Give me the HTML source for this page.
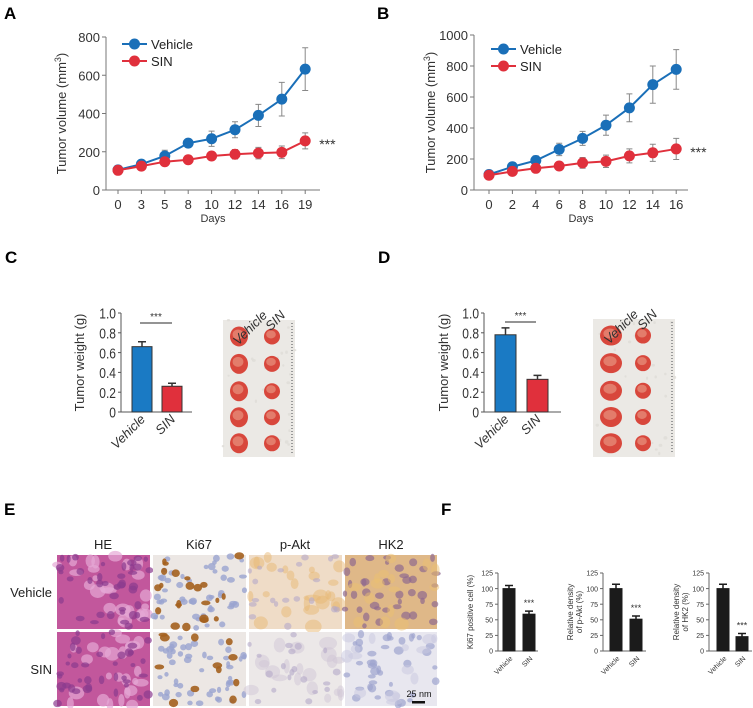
<!DOCTYPE html>
<html><head><meta charset="utf-8"><style>
html,body{margin:0;padding:0;background:#fff;}
svg{display:block;font-family:"Liberation Sans",Arial,sans-serif;}
</style></head><body>
<svg id="fig" width="753" height="708" viewBox="0 0 753 708" xmlns="http://www.w3.org/2000/svg">
<g id="root"></g>
</svg>
<script>
// ---- Panel A data ----
const daysA = ["0","3","5","8","10","12","14","16","19"];
const vehA = [105,135,178,245,268,315,390,475,632];
const vehAErr = [10,15,30,20,40,42,58,88,112];
const sinA = [103,125,148,158,178,187,193,197,257];
const sinAErr = [10,12,15,15,15,25,30,33,42];
const ticksA = [0,200,400,600,800];
// ---- Panel B data ----
const daysB = ["0","2","4","6","8","10","12","14","16"];
const vehB = [100,150,190,262,333,418,530,680,778];
const vehBErr = [10,15,30,40,45,65,90,120,128];
const sinB = [95,120,140,155,175,185,220,240,265];
const sinBErr = [10,15,20,25,35,40,45,55,68];
const ticksB = [0,200,400,600,800,1000];
// ---- Panel C/D data ----
const groupsCD = ["Vehicle","SIN"];
const weightC = [0.66,0.26];
const weightCErr = [0.05,0.03];
const weightD = [0.78,0.33];
const weightDErr = [0.07,0.04];
const ticksCD = ["0","0.2","0.4","0.6","0.8","1.0"];
// ---- Panel F data ----
const groupsF = ["Vehicle","SIN"];
const ki67 = [100,59];
const ki67Err = [5,5];
const pakt = [100,51];
const paktErr = [7,5];
const hk2 = [100,23];
const hk2Err = [7,5];
const ticksF = [0,25,50,75,100,125];

const NS="http://www.w3.org/2000/svg";
const root=document.getElementById('root');
function el(tag,attrs,parent,text){const e=document.createElementNS(NS,tag);for(const k in attrs)e.setAttribute(k,attrs[k]);if(text!==undefined)e.textContent=text;(parent||root).appendChild(e);return e;}

function label(x,y,t){const e=el('text',{x:x,y:y,'font-size':17,'font-weight':'bold',fill:'#000'},root,t);

}
label(4,19,'A');label(377,19,'B');label(5,263,'C');label(378,263,'D');label(4,515,'E');label(441,515,'F');

function lineChart(p){
  const g=el('g',{});
  
  
  const y=v=>p.y0-(v/p.ymax)*(p.y0-p.y1);
  const x=i=>p.x0+i*p.dx;
  el('line',{x1:p.ax,y1:p.y1,x2:p.ax,y2:p.y0,stroke:'#777','stroke-width':1},g);
  el('line',{x1:p.ax,y1:p.y0,x2:p.axEnd,y2:p.y0,stroke:'#777','stroke-width':1},g);
  p.ticks.forEach(t=>{el('line',{x1:p.ax-4,y1:y(t),x2:p.ax,y2:y(t),stroke:'#777'},g);
    const tt=el('text',{x:p.ax-6,y:y(t)+5,'font-size':13,'text-anchor':'end',fill:'#333'},g,String(t));
    
    });
  p.cats.forEach((c,i)=>{el('line',{x1:x(i),y1:p.y0,x2:x(i),y2:p.y0+4,stroke:'#777'},g);
    const tt=el('text',{x:x(i),y:p.y0+19,'font-size':13,'text-anchor':'middle',fill:'#333'},g,c);
    
    });
  const xt=el('text',{x:(p.ax+p.axEnd)/2,y:p.y0+32,'font-size':11,'text-anchor':'middle',fill:'#333'},g,'Days');
  
  
  const yt=el('text',{x:0,y:0,'font-size':13,'text-anchor':'middle',fill:'#333',transform:`translate(${p.ytx},${(p.y0+p.y1)/2}) rotate(-90)`},g);
  
  
  yt.innerHTML='Tumor volume (mm<tspan dy="-5" font-size="9">3</tspan><tspan dy="5">)</tspan>';
  [[p.veh,p.vehErr,'#1a6fb8','vehicle'],[p.sin,p.sinErr,'#e0303c','sin']].forEach(([vals,errs,col,nm])=>{
    vals.forEach((v,i)=>{const e=el('path',{d:`M${x(i)},${y(v-errs[i])}V${y(v+errs[i])}M${x(i)-3},${y(v+errs[i])}h6M${x(i)-3},${y(v-errs[i])}h6`,stroke:'#888','stroke-width':1,fill:'none'},g);
      
      });
    const l=el('polyline',{points:vals.map((v,i)=>x(i)+','+y(v)).join(' '),fill:'none',stroke:col,'stroke-width':2},g);
    
    
    vals.forEach((v,i)=>{const c=el('circle',{cx:x(i),cy:y(v),r:5.5,fill:col},g);
      
      });
  });
  const st=el('text',{x:x(8)+14,y:y(p.sin[8])+8,'font-size':14,fill:'#333'},g,'***');
  
  
  [['Vehicle','#1a6fb8',p.legY],['SIN','#e0303c',p.legY+17]].forEach(([t,c,ly])=>{
    const lg=el('g',{},g);
    
    
    el('line',{x1:p.legX,y1:ly,x2:p.legX+25,y2:ly,stroke:c,'stroke-width':2},lg);
    el('circle',{cx:p.legX+12.5,cy:ly,r:5.5,fill:c},lg);
    el('text',{x:p.legX+29,y:ly+5,'font-size':13,fill:'#222'},lg,t);
  });
}
lineChart({name:'panel-a-chart',x0:118,dx:23.4,ax:106,axEnd:320,y0:190,y1:37,ymax:800,ticks:ticksA,cats:daysA,veh:vehA,vehErr:vehAErr,sin:sinA,sinErr:sinAErr,ytx:66,legX:122,legY:44});
lineChart({name:'panel-b-chart',x0:489,dx:23.4,ax:474,axEnd:688,y0:190,y1:35,ymax:1000,ticks:ticksB,cats:daysB,veh:vehB,vehErr:vehBErr,sin:sinB,sinErr:sinBErr,ytx:435,legX:491,legY:49});

function barChart(p){
  const g=el('g',{});
  
  
  const y=v=>p.y0-(v/p.ymax)*(p.y0-p.y1);
  el('line',{x1:p.ax,y1:p.y1,x2:p.ax,y2:p.y0,stroke:p.axc,'stroke-width':1},g);
  el('line',{x1:p.ax,y1:p.y0,x2:p.axEnd,y2:p.y0,stroke:p.axc,'stroke-width':1},g);
  p.ticks.forEach(t=>{const v=parseFloat(t);el('line',{x1:p.ax-3,y1:y(v),x2:p.ax,y2:y(v),stroke:p.axc},g);
    const tt=el('text',{x:p.ax-5,y:y(v)+p.fs*0.38,'font-size':p.fs,'text-anchor':'end',fill:'#333',transform:p.narrow?`translate(${p.ax-5},0) scale(0.8,1) translate(${-(p.ax-5)},0)`:''},g,t);
    
    });
  p.vals.forEach((v,i)=>{const bx=p.bx[i];
    const e=el('path',{d:`M${bx+p.bw/2},${y(v)}V${y(v+p.err[i])}M${bx+p.bw/2-4},${y(v+p.err[i])}h8`,stroke:p.barStroke,'stroke-width':1.5,fill:'none'},g);
    
    
    const r=el('rect',{x:bx,y:y(v),width:p.bw,height:p.y0-y(v),fill:p.cols[i],stroke:p.barStroke,'stroke-width':1},g);
    
    
    const tl=el('text',{x:0,y:0,'font-size':p.cfs,'text-anchor':'end',fill:'#333','font-style':p.italic?'italic':'normal',transform:`translate(${bx+p.bw/2+4},${p.y0+8}) rotate(-45)`},g,p.cats[i]);
    
    
  });
  const yt=el('text',{x:0,y:0,'font-size':p.tfs,'text-anchor':'middle',fill:'#333',transform:`translate(${p.ytx},${(p.y0+p.y1)/2}) rotate(-90)`},g);
  
  
  p.title.forEach((t,k)=>el('tspan',{x:0,dy:k?p.tfs+1:(p.title.length>1?-(p.tfs/2):0)},yt,t));
  if(p.sig){el('line',{x1:p.sig[0],y1:p.sig[2],x2:p.sig[1],y2:p.sig[2],stroke:'#555','stroke-width':1.3},g);
    const s=el('text',{x:(p.sig[0]+p.sig[1])/2,y:p.sig[2]-3,'font-size':10,'text-anchor':'middle',fill:'#333'},g,'***');
    
    }
  else{const s=el('text',{x:p.bx[1]+p.bw/2,y:y(p.vals[1]+p.err[1])-5,'font-size':9,'text-anchor':'middle',fill:'#333'},g,'***');
    
    }
}
barChart({name:'panel-c-chart',ax:121,axEnd:192,y0:412,y1:313,ymax:1,ticks:ticksCD,vals:weightC,err:weightCErr,cats:groupsCD,bx:[132,162],bw:20,cols:['#1a7ac4','#e0303c'],barStroke:'#333',axc:'#555',fs:15,narrow:true,cfs:13,italic:true,tfs:13,title:['Tumor weight (g)'],ytx:84,sig:[140,172,323]});
barChart({name:'panel-d-chart',ax:484,axEnd:561,y0:412,y1:313,ymax:1,ticks:ticksCD,vals:weightD,err:weightDErr,cats:groupsCD,bx:[495,527],bw:21,cols:['#1a7ac4','#e0303c'],barStroke:'#333',axc:'#555',fs:15,narrow:true,cfs:13,italic:true,tfs:13,title:['Tumor weight (g)'],ytx:448,sig:[505,536,322]});
barChart({name:'panel-f-ki67-chart',ax:498,axEnd:538,y0:651,y1:573,ymax:125,ticks:ticksF.map(String),vals:ki67,err:ki67Err,cats:groupsF,bx:[503,523],bw:12,cols:['#1b1b1b','#1b1b1b'],barStroke:'#1b1b1b',axc:'#666',fs:7,cfs:7,tfs:8,title:['Ki67 positive cell (%)'],ytx:473});
barChart({name:'panel-f-pakt-chart',ax:603,axEnd:646,y0:651,y1:573,ymax:125,ticks:ticksF.map(String),vals:pakt,err:paktErr,cats:groupsF,bx:[610,630],bw:12,cols:['#1b1b1b','#1b1b1b'],barStroke:'#1b1b1b',axc:'#666',fs:7,cfs:7,tfs:8,title:['Relative density','of p-Akt (%)'],ytx:577});
barChart({name:'panel-f-hk2-chart',ax:709,axEnd:752,y0:651,y1:573,ymax:125,ticks:ticksF.map(String),vals:hk2,err:hk2Err,cats:groupsF,bx:[717,736],bw:12,cols:['#1b1b1b','#1b1b1b'],barStroke:'#1b1b1b',axc:'#666',fs:7,cfs:7,tfs:8,title:['Relative density','of HK2 (%)'],ytx:683});

// ---- texture helper (decorative photos) ----
let seed=7;function rnd(){seed=(seed*16807)%2147483647;return seed/2147483647;}
function photo(name,x,y,w,h,bg,blobs){
  const g=el('g',{});
  
  
  el('rect',{x:x,y:y,width:w,height:h,fill:bg},g);
  blobs.forEach(([col,n,rmin,rmax,op])=>{for(let i=0;i<n;i++){el('ellipse',{cx:x+rnd()*w,cy:y+rnd()*h,rx:rmin+rnd()*(rmax-rmin),ry:rmin+rnd()*(rmax-rmin)*0.8,fill:col,opacity:op},g);}});
  return g;
}
function tumors(name,x,y,w,h,cxs,sizes){
  const g=photo(name,x,y,w,h,'#ebe9e5',[['#dedcd7',30,1,2,0.8]]);
  const rows=[0.12,0.32,0.52,0.71,0.9];
  rows.forEach(ry=>{[0,1].forEach(c=>{
    const cx=cxs[c], cy=y+h*ry;
    const s=sizes[c];
    el('ellipse',{cx:cx,cy:cy,rx:s[0],ry:s[1],fill:'#d8473c'},g);
    el('ellipse',{cx:cx-1,cy:cy-2,rx:s[0]*0.6,ry:s[1]*0.5,fill:'#eba08a',opacity:0.6},g);
  });});
  el('line',{x1:x+w-3,y1:y+3,x2:x+w-3,y2:y+h-3,stroke:'#999','stroke-width':2,'stroke-dasharray':'1 2'},g);
}
tumors('panel-c-tumor-photo',223,320,72,137,[239,272],[[9,10],[8,8]]);
tumors('panel-d-tumor-photo',593,319,82,138,[611,643],[[11,10],[8,8]]);
[['Vehicle',268,316],['SIN',286,316],['Vehicle',639,315],['SIN',658,315]].forEach(([t,x,y])=>{
  const e=el('text',{x:0,y:0,'font-size':13,'font-style':'italic','text-anchor':'end',fill:'#333',transform:`translate(${x},${y}) rotate(-45)`},root,t);
  
  });

// IHC images
const colsE=[['HE',57],['Ki67',153],['p-Akt',249],['HK2',345]];
colsE.forEach(([t,x])=>{const e=el('text',{x:x+46,y:549,'font-size':13,'text-anchor':'middle',fill:'#222'},root,t);
  
  });
[['Vehicle',597],['SIN',674]].forEach(([t,y])=>{const e=el('text',{x:52,y:y,'font-size':13,'text-anchor':'end',fill:'#222'},root,t);
  
  });
const rowsY=[[555,74],[632,74]];
rowsY.forEach(([ry,rh],ri)=>{
  photo('ihc-he-'+ri,57,ry,93,rh,'#c2579c',[['#e6a8d6',25,3,8,0.7],['#8a3a8e',40,2,5,0.7]]);
  photo('ihc-ki67-'+ri,153,ry,93,rh,'#ece7e4',[['#9aa4cf',50,2,4,0.8],['#a4601e',ri?12:22,2,5,0.9]]);
  photo('ihc-pakt-'+ri,249,ry,93,rh,ri?'#ece8e8':'#efdcc7',[[ri?'#cfc6d6':'#e8b773',ri?20:25,3,9,0.5],['#b4a8c8',20,2,4,0.6]]);
  photo('ihc-hk2-'+ri,345,ry,92,rh,ri?'#e8e7ef':'#dfb888',[[ri?'#9ea4cf':'#8e6a8e',40,2,5,0.7],[ri?'#c8c8e0':'#ecc070',15,3,8,0.5]]);
});
const sb=el('g',{});


el('text',{x:419,y:697,'font-size':9,'text-anchor':'middle',fill:'#111'},sb,'25 nm');
el('rect',{x:412,y:701,width:13,height:2.5,fill:'#111'},sb);
</script>
</body></html>
